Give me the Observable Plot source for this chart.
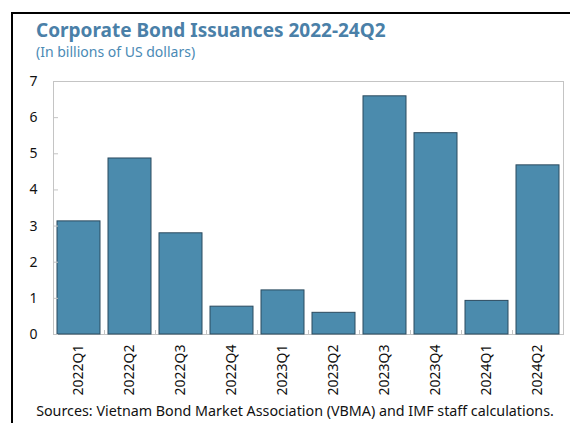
<!DOCTYPE html>
<html><head><meta charset="utf-8">
<script src="https://cdn.jsdelivr.net/npm/d3@7"></script>
<script src="https://cdn.jsdelivr.net/npm/@observablehq/plot@0.6"></script>
<style>
body{margin:0;background:#fff;font-family:"Noto Sans",sans-serif;}
#wrap{position:relative;width:570px;height:423px;overflow:hidden;background:#fff;}
#frame{position:absolute;left:11px;top:12px;width:600px;height:440px;border-left:2.5px solid #000;border-top:2.5px solid #000;box-sizing:border-box;}
#title{position:absolute;left:36px;top:17px;font-size:19px;font-weight:bold;color:#4a80a8;white-space:nowrap;}
#sub{position:absolute;left:36px;top:42px;font-size:14px;color:#4a8ab5;white-space:nowrap;}
#chart{position:absolute;left:0;top:60px;}
#cap{position:absolute;left:0;width:590px;text-align:center;top:401px;font-size:14.3px;color:#111;white-space:nowrap;}
</style></head><body>
<div id="wrap">
<div id="frame"></div>
<div id="title">Corporate Bond Issuances 2022-24Q2</div>
<div id="sub">(In billions of US dollars)</div>
<div id="chart"></div>
<div id="cap">Sources: Vietnam Bond Market Association (VBMA) and IMF staff calculations.</div>
</div>
<script>
const quarters = ["2022Q1","2022Q2","2022Q3","2022Q4","2023Q1","2023Q2","2023Q3","2023Q4","2024Q1","2024Q2"];
const issuance = [3.13, 4.87, 2.8, 0.77, 1.22, 0.6, 6.59, 5.57, 0.93, 4.68];
const yTicks = [0,1,2,3,4,5,6,7];
const data = quarters.map((q,i)=>({q, v: issuance[i]}));
const W = 570, ML = 53, MR = 7;
const step = (W - ML - MR) / quarters.length;
const chart = Plot.plot({
  width: W, height: 340,
  marginLeft: ML, marginRight: MR, marginTop: 21, marginBottom: 66,
  style: {fontFamily: '"Noto Sans", sans-serif', fontSize: "14px", color: "#111", background: "transparent"},
  x: {domain: quarters, paddingInner: 0.16, paddingOuter: 0.08, align: 0.5, label: null},
  y: {domain: [0,7], label: null},
  marks: [
    Plot.frame({stroke: "#c4c4c4"}),
    Plot.ruleX(quarters.slice(0, -1), {x: d => d, dx: step / 2, y1: 0, y2: 0.11, stroke: "#c4c4c4"}),
    Plot.barY(data, {x: "q", y: "v", fill: "#4b8bad", stroke: "#2b4a5e", strokeWidth: 1}),
    Plot.axisY(yTicks, {tickSize: -5, tickPadding: 21, stroke: "#c4c4c4", label: null, fontSize: 14}),
    Plot.axisX({tickSize: 0, tickPadding: 10, tickRotate: -90, label: null, fontSize: 14})
  ]
});
document.getElementById("chart").appendChild(chart);
</script>
</body></html>
